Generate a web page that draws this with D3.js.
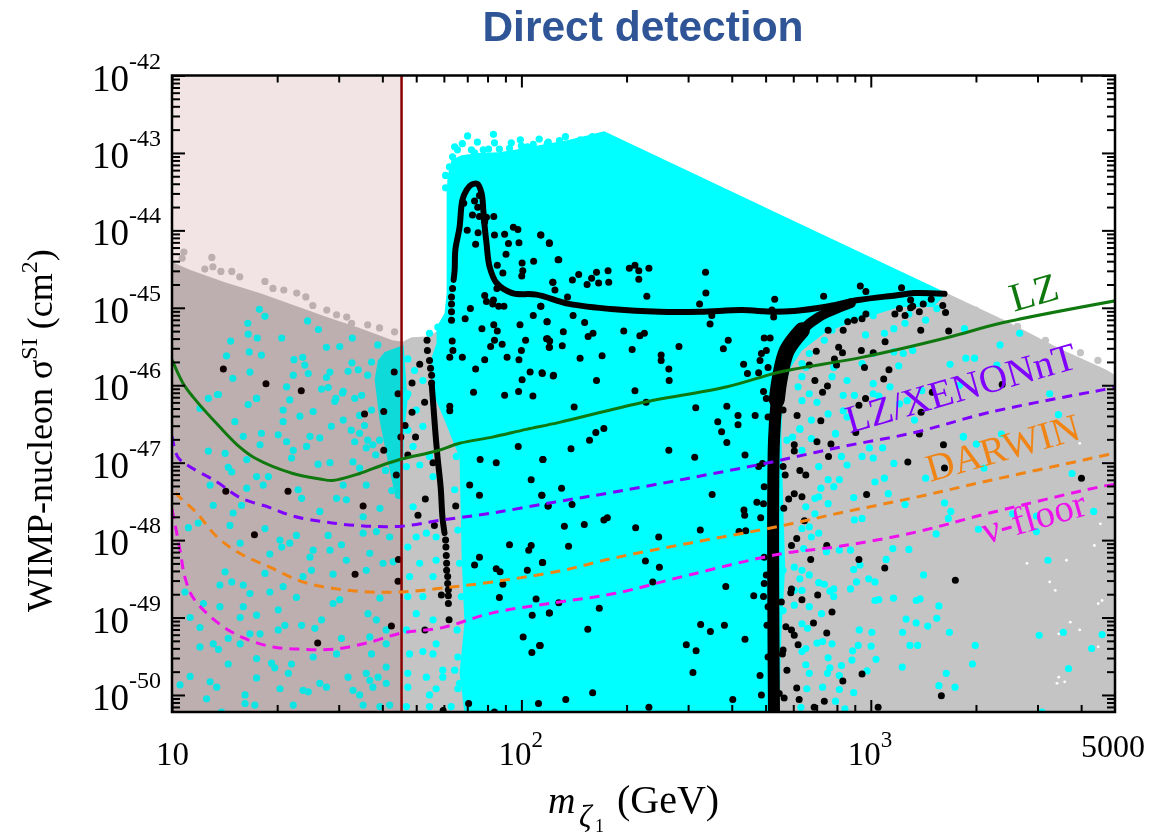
<!DOCTYPE html>
<html>
<head>
<meta charset="utf-8">
<script src="https://cdn.jsdelivr.net/npm/d3@7"></script>
<style>
  html, body { margin: 0; background: #fff; }
  text { font-family: "Liberation Serif", serif; }
  #chart { filter: blur(0.4px); }
</style>
</head>
<body>
<svg id="chart" width="1168" height="836"></svg>
<script>
// all points are [log10(mass / GeV), log10(sigma / cm2)]
const xTickExp = [1, 2, 3];
const yTickExp = [-42, -43, -44, -45, -46, -47, -48, -49, -50];
const xMinor = [20, 30, 40, 50, 60, 70, 80, 90, 200, 300, 400, 500, 600, 700, 800, 900, 2000, 3000, 4000];
const minorFactors = [2, 3, 4, 5, 6, 7, 8, 9];
const massLimit = 1.657;

const grayRegion = [[1,-44.41],[1.051,-44.51],[1.151,-44.67],[1.251,-44.81],[1.351,-44.97],[1.443,-45.12],[1.537,-45.26],[1.631,-45.42],[1.66,-45.44],[1.686,-45.38],[1.729,-45.37],[1.766,-45.29],[3.217,-44.81],[3.383,-45.16],[3.537,-45.52],[3.674,-45.8],[3.7,-45.87],[3.7,-50.23],[1,-50.23]];
const grayEdge = [[1.034,-44.28],[1.029,-44.36],[1.094,-44.5],[1.114,-44.35],[1.117,-44.47],[1.14,-44.53],[1.171,-44.53],[1.194,-44.6],[1.266,-44.66],[1.289,-44.75],[1.32,-44.77],[1.357,-44.81],[1.383,-44.86],[1.403,-44.97],[1.443,-45.03],[1.471,-45.09],[1.5,-45.12],[1.514,-45.2],[1.56,-45.22],[1.594,-45.26],[1.637,-45.31],[3.3,-45.03],[3.42,-45.24],[3.5,-45.42],[3.6,-45.58],[3.65,-45.68]];
const whiteSpecks = [[3.571,-49.06],[3.538,-49.21],[3.533,-49.85],[3.512,-48.54],[3.447,-48.3],[3.651,-49.38],[3.657,-47.79],[3.598,-46.75],[3.64,-48.07],[3.662,-48.78],[3.598,-49.16],[3.56,-48.26],[3.528,-48.65],[3.651,-48.82],[3.555,-49.83],[3.538,-49.77]];

const cyanRegion = [[1.837,-50.23],[1.823,-49.72],[1.837,-49.07],[1.829,-48.22],[1.823,-46.93],[1.803,-46.71],[1.78,-46.45],[1.743,-46.06],[1.74,-45.68],[1.757,-45.46],[1.757,-45.25],[1.78,-45.07],[1.786,-44.81],[1.786,-43.52],[1.789,-43.29],[1.8,-43.09],[1.829,-43.03],[1.88,-43],[1.937,-42.99],[1.994,-42.95],[2.051,-42.9],[2.137,-42.83],[2.194,-42.77],[2.237,-42.72],[3.217,-44.81],[3.179,-44.99],[3.082,-44.99],[3.018,-45.08],[2.932,-45.21],[2.867,-45.33],[2.803,-45.55],[2.771,-45.77],[2.749,-46.11],[2.744,-46.63],[2.749,-47.48],[2.755,-48.35],[2.744,-49.21],[2.738,-50.23]];
const cyanClump = [[1.609,-45.57],[1.663,-45.48],[1.674,-46.19],[1.663,-46.71],[1.66,-47.48],[1.64,-47.46],[1.617,-46.97],[1.594,-46.45],[1.58,-45.93],[1.589,-45.68]];
const cyanClumpDots = [[1.543,-46.13],[1.56,-45.87],[1.571,-46.32],[1.589,-45.48],[1.551,-46.52],[1.523,-46.17],[1.537,-46.39],[1.56,-46.71],[1.594,-46.71],[1.611,-47.1],[1.583,-46.9],[1.629,-47.36]];
const cyanEdge = [[1.846,-42.78],[1.92,-42.76],[1.874,-42.86],[1.831,-42.88],[1.809,-42.92],[1.923,-42.87],[1.971,-42.87],[1.997,-42.83],[2.051,-42.82],[2.077,-42.86],[1.906,-42.95],[1.866,-43],[2.017,-42.92],[1.846,-43.07],[1.803,-43.05],[1.794,-43.18],[1.929,-43.05],[1.951,-43.07],[2.126,-42.79],[2.169,-42.83],[2.203,-42.79],[1.817,-42.96],[1.857,-42.96],[1.891,-42.96],[1.937,-42.95],[1.966,-42.94],[2,-42.91],[2.034,-42.89],[2.074,-42.88],[2.109,-42.84],[1.783,-43.29],[1.783,-43.45],[1.818,-46.49],[1.814,-46.92],[1.809,-47.35],[1.818,-47.87],[1.823,-48.3],[1.828,-48.73],[1.816,-49.16],[1.818,-49.51],[1.823,-49.85]];

const cyanLeft = [[1.25,-45.02],[1.266,-45.11],[1.217,-45.2],[1.218,-45.34],[1.244,-45.39],[1.168,-45.43],[1.314,-45.39],[1.221,-45.57],[1.256,-45.61],[1.156,-45.62],[1.388,-45.17],[1.419,-45.28],[1.442,-45.51],[1.48,-45.5],[1.516,-45.39],[1.349,-45.67],[1.374,-45.64],[1.38,-45.74],[1.223,-45.83],[1.174,-45.91],[1.347,-45.87],[1.39,-45.85],[1.452,-45.83],[1.504,-45.82],[1.533,-45.8],[1.515,-45.71],[1.571,-45.7],[1.442,-45.9],[1.328,-46.02],[1.428,-46.05],[1.447,-46.03],[1.488,-46.1],[1.13,-46.12],[1.242,-46.17],[1.104,-46.17],[1.469,-46.17],
[1.08,-46.3],[1.133,-46.12],[1.218,-46.25],[1.242,-46.17],[1.318,-46.32],[1.337,-46.19],[1.366,-46.4],[1.404,-46.34],[1.466,-46.21],[1.49,-46.08],[1.18,-46.47],[1.318,-46.47],[1.456,-46.53],[1.49,-46.45],[1.513,-46.58],[1.537,-46.62],[1.204,-46.66],[1.256,-46.62],[1.304,-46.64],[1.328,-46.73],[1.395,-46.66],[1.423,-46.68],[1.252,-46.77],[1.104,-46.85],[1.152,-46.88],[1.385,-46.79],[1.347,-46.84],[1.523,-46.73],[1.556,-46.81],[1.575,-46.77],[1.214,-46.96],[1.161,-47.06],[1.171,-47.12],[1.342,-46.94],[1.418,-47.02],[1.452,-47],[1.518,-46.99],[1.537,-47.07],[1.276,-47.18],[1.242,-47.18],[1.109,-47.29],[1.214,-47.33],[1.261,-47.29],[1.361,-47.35],[1.49,-47.29],[1.556,-47.29],[1.118,-47.55],[1.175,-47.65],[1.199,-47.55],[1.371,-47.46],[1.471,-47.46],[1.499,-47.48],[1.423,-47.63],[1.547,-47.7],[1.595,-47.59],[1.075,-47.78],[1.047,-47.84],[1.166,-47.81],[1.266,-47.85],[1.356,-47.94],[1.447,-47.94],[1.547,-47.91],[1.585,-47.89],[1.623,-47.96],[1.309,-48],[1.195,-48.04],[1.337,-48.04],[1.404,-48.13],[1.485,-48.06],[1.566,-48.17],[1.28,-48.18],[1.452,-48.13],[1.395,-48.22],[1.314,-48.09],[1.499,-48.26],[1.604,-48.3],[1.633,-48.28],[1.556,-48.39],[1.399,-48.39],[1.375,-48.47],[1.461,-48.44],[1.266,-48.43],[1.152,-48.41],[1.137,-48.58],[1.171,-48.54],[1.204,-48.58],[1.318,-48.6],[1.28,-48.67],[1.356,-48.74],[1.223,-48.69],[1.204,-48.86],[1.137,-48.86],[1.304,-48.9],[1.037,-48.67],[1.09,-48.82],[1.461,-48.82],[1.48,-48.77],[1.595,-48.75],[1.561,-48.95],[1.585,-49.03],[1.052,-49],[1.195,-49],[1.242,-48.97],[1.08,-49.13],[1.323,-49.1],[1.304,-49.16],[1.371,-49.1],[1.428,-49.03],[1.409,-49.14],[1.252,-49.21],[1.485,-49.27],[1.161,-49.27],[1.223,-49.21],[1.566,-49.25],[1.613,-49.16],[1.118,-49.34],[1.08,-49.38],[1.195,-49.34],[1.133,-49.41],[1.404,-49.51],[1.471,-49.47],[1.571,-49.47],[1.613,-49.34],[1.242,-49.53],[1.161,-49.6],[1.285,-49.59],[1.294,-49.65],[1.342,-49.6],[1.504,-49.77],[1.333,-49.72],[1.556,-49.72],[1.613,-49.64],[1.566,-49.81],[1.59,-49.77],[1.052,-49.76],[1.242,-49.78],[1.109,-49.83],[1.128,-49.9],[1.023,-49.87],[1.423,-49.85],[1.442,-49.9],[1.309,-49.92],[1.375,-49.94],[1.39,-49.96],[1.518,-49.94],[1.537,-50],[1.575,-49.9],[1.613,-49.85],[1.209,-50],[1.209,-50.11],[1.237,-50.13],[1.099,-50.05],[1.347,-50.13],[1.547,-50.13],[1.595,-50.15],[1.623,-50.13],[1.142,-50.22]];
const cyanMiddle = [[1.671,-46.15],[1.699,-46.32],[1.675,-46.58],[1.718,-46.53],[1.671,-47.05],[1.69,-46.79],[1.709,-47.03],[1.737,-46.92],[1.747,-47.18],[1.69,-47.57],[1.728,-47.91],[1.699,-47.96],[1.756,-47.96],[1.675,-48.09],[1.709,-48.3],[1.756,-48.26],[1.68,-48.47],[1.747,-48.47],[1.675,-48.73],[1.718,-48.73],[1.699,-48.95],[1.747,-49.03],[1.671,-49.16],[1.756,-49.34],[1.68,-49.47],[1.718,-49.44],[1.747,-49.47],[1.675,-49.72],[1.728,-49.77],[1.775,-49.77],[1.809,-49.68],[1.675,-49.9],[1.756,-49.92],[1.818,-49.92],[1.737,-50],[1.799,-50.15],[1.671,-50.15],[1.737,-50.15],[1.775,-49.68],[1.675,-45.66],[1.694,-45.81],[1.718,-45.94],[1.737,-45.33],[1.761,-45.25],[1.675,-46.11]];
const cyanRight = [[2.889,-45.29],[2.921,-45.16],[3.007,-45.1],[2.985,-45.35],[3.039,-45.33],[3.066,-45.27],[3.098,-45.2],[3.157,-45.16],[3.109,-45.08],[3.189,-45.01],[3.268,-45.27],[3.426,-45.33],[3.37,-45.48],[3.272,-45.65],[3.297,-45.65],[3.227,-45.73],[3.361,-45.74],[3.007,-45.59],[3.066,-45.57],[3.093,-45.59],[3.12,-45.55],[3.08,-45.75],[2.894,-45.77],[2.975,-45.72],[2.814,-45.77],[2.867,-45.42],[2.824,-45.59],[2.803,-45.72],[2.889,-45.89],[2.932,-45.94],[2.803,-45.89],[2.792,-46.02],[2.824,-46.11],[3.007,-45.98],[3.055,-46.02],[2.921,-46.13],[2.953,-46.13],[3.007,-46.11],[3.023,-46.14],[2.846,-46.22],[2.803,-46.2],[2.878,-46.37],[2.921,-46.33],[2.932,-46.41],[3.082,-46.24],[3.254,-46],[3.512,-46.11],[3.537,-46.38],[3.374,-46.63],[3.265,-46.67],[2.899,-46.63],[2.83,-46.45],[2.797,-46.56],[2.776,-46.67],[3.104,-46.2],[3.146,-46.07],[3.125,-46.45],
[2.899,-46.62],[2.797,-46.57],[2.76,-46.71],[2.83,-46.69],[2.803,-46.84],[2.851,-47.05],[2.878,-47.22],[2.91,-47.22],[2.894,-47.31],[2.857,-47.33],[2.851,-47.44],[2.84,-47.46],[2.814,-47.57],[2.878,-47.53],[2.84,-47.66],[2.803,-47.85],[2.824,-47.83],[2.851,-47.91],[2.83,-47.96],[2.916,-46.92],[2.932,-47.03],[2.975,-46.92],[2.996,-46.81],[3.007,-46.94],[3.034,-46.81],[3.066,-47.01],[3.265,-46.66],[3.302,-46.76],[3.324,-47.07],[3.157,-47.2],[3.012,-47.25],[3.039,-47.2],[3.05,-47.4],[2.951,-47.45],[3.098,-47.54],[3.211,-47.52],[3.229,-47.63],[3.222,-47.72],[2.953,-47.74],[2.975,-47.72],[3.308,-47.86],[3.187,-47.92],[3.474,-47.89],[3.474,-47.69],[3.406,-47.66],[3.576,-47.14],[3.638,-47.63],[3.507,-48.26],[3.063,-48.11],[3.109,-48.12],[3.044,-48.25],[2.873,-48.15],[2.91,-48.13],[2.942,-48.13],[2.808,-48.11],[2.781,-48.35],[2.803,-48.39],[2.749,-48.39],[2.824,-48.45],[2.797,-48.5],[2.951,-48.38],[2.969,-48.32],[2.994,-48.5],[3.012,-48.54],[3.151,-48.45],[2.851,-48.55],[2.867,-48.57],[2.959,-48.54],[2.942,-48.63],[2.894,-48.63],[2.883,-48.66],[2.803,-48.65],[2.781,-48.65],[2.894,-48.73],[2.749,-48.91],[2.781,-48.84],[2.824,-48.86],[3.023,-48.77],[3.012,-48.78],[3.065,-48.75],[3.13,-48.78],[3.141,-48.76],[3.195,-48.85],[2.859,-48.95],[3.101,-49.02],[3.13,-49.07],[3.189,-49.01],[3.163,-49.11],[2.803,-49.08],[2.819,-49.14],[2.967,-49.16],[3.003,-49.19],[3.091,-49.19],[3.225,-49.19],[3.482,-49.23],[3.551,-49.19],[3.662,-49.22],[2.846,-49.33],[2.862,-49.31],[2.889,-49.34],[2.964,-49.36],[3.001,-49.37],[3.112,-49.36],[3.134,-49.36],[3.299,-49.36],[3.632,-49.4],[2.814,-49.4],[2.803,-49.44],[2.948,-49.43],[2.878,-49.52],[3.015,-49.54],[2.946,-49.55],[2.814,-49.61],[2.916,-49.62],[2.883,-49.65],[2.876,-49.72],[2.824,-49.72],[2.91,-49.75],[3.09,-49.64],[2.989,-49.69],[3.291,-49.6],[3.566,-49.66],[3.216,-49.72],[3.195,-49.88],[3.241,-49.9],[2.862,-49.9],[2.817,-49.92],[2.91,-49.93],[2.951,-49.97],[2.899,-50.08],[2.8,-50.16],[2.926,-50.18],[3.49,-50.22]];

const blackScatter = [[1.147,-45.79],[1.269,-45.98],[1.37,-46.07],[1.636,-45.83],[1.709,-45.73],[1.687,-45.97],[1.647,-46.11],[1.73,-45.42],[1.802,-45.43],[1.804,-45.55],[1.795,-45.64],[1.831,-45.64],[1.869,-45.79],[1.895,-45.67],[1.959,-45.64],[1.993,-45.67],[2,-45.55],[2.025,-45.83],[2.059,-45.84],[2.092,-45.87],[2.002,-45.93],[1.863,-46.09],[1.952,-46.13],[1.992,-46.08],[2.033,-46.14],[1.912,-45.5],[1.923,-45.42],[1.945,-45.47],[2.012,-45.42],[2.075,-45.4],[2.08,-45.51],[1.887,-45.27],[1.921,-45.22],[1.931,-45.3],[1.996,-45.22],[2.073,-45.18],[1.839,-45.14],[1.854,-45.01],[2.034,-45.1],[2.055,-44.98],[1.918,-44.95],[1.895,-44.84],[2.09,-44.67],[2.001,-44.59],[1.947,-44.55],[2.004,-44.52],[2.002,-44.42],[2.035,-44.4],[1.931,-44.45],[1.956,-44.31],[2.105,-44.38],[1.869,-44.18],[1.963,-44.17],[1.993,-44.16],[2.08,-44.16],[2.055,-44.06],[1.952,-44.05],[1.923,-44.06],[1.977,-43.96],[1.99,-43.99],[1.876,-44.03],[1.921,-43.82],[1.895,-43.89],
[1.551,-46.37],[1.606,-46.34],[1.687,-46.35],[1.723,-46.22],[1.667,-46.52],[1.655,-46.67],[1.697,-46.67],[1.606,-46.84],[1.675,-46.9],[1.747,-47],[1.642,-47.16],[1.154,-47.37],[1.332,-47.37],[1.852,-47.29],[1.88,-47.42],[1.547,-47.56],[1.725,-47.47],[1.812,-47.56],[1.704,-47.68],[1.751,-47.81],[1.236,-47.93],[1.991,-46.79],[1.882,-46.96],[1.928,-47],[2.061,-46.96],[2.028,-47.22],[2.058,-47.42],[2.077,-47.56],[1.795,-46.27],[1.795,-46.33],[1.966,-48.06],[2.028,-48.07],[2.021,-48.13],[1.88,-48.22],[1.866,-48.32],[2.061,-48.29],[1.928,-48.37],[1.939,-48.41],[2.017,-48.39],[1.648,-48.25],[1.524,-48.44],[1.647,-48.53],[1.947,-48.57],[1.771,-48.71],[1.937,-48.74],[2.042,-48.76],[2.031,-48.97],[2.08,-48.94],[1.793,-49.03],[1.628,-49.11],[1.724,-49.16],[1.417,-49.33],[2.005,-49.25],[2.052,-49.36],[2.03,-49.45],[1.849,-50.11],[2.049,-50.11],[1.923,-50.22],[1.776,-50.2],
[2.056,-44.06],[2.08,-44.17],[2.107,-44.38],[2.09,-44.67],[2.096,-44.77],[2.132,-44.86],[2.146,-44.64],[2.164,-44.57],[2.188,-44.7],[2.215,-44.54],[2.201,-44.62],[2.221,-44.68],[2.248,-44.52],[2.25,-44.67],[2.309,-44.49],[2.325,-44.45],[2.336,-44.52],[2.365,-44.49],[2.336,-44.63],[2.359,-44.85],[2.527,-44.54],[2.528,-44.81],[2.51,-44.95],[2.725,-44.89],[2.865,-44.85],[2.97,-44.72],[2.986,-44.79],[3.088,-44.74],[2.056,-44.98],[2.148,-45.1],[2.074,-45.18],[2.181,-45.19],[2.12,-45.31],[2.293,-45.3],[2.205,-45.33],[2.191,-45.37],[2.072,-45.4],[2.081,-45.43],[2.08,-45.51],[2.117,-45.49],[2.352,-45.33],[2.339,-45.36],[2.451,-45.5],[2.317,-45.54],[2.231,-45.62],[2.168,-45.65],[2.4,-45.61],[2.4,-45.68],[2.422,-45.79],[2.423,-45.94],[2.06,-45.85],[2.091,-45.88],[2.215,-45.94],[2.325,-46.07],[2.357,-46.22],[2.151,-46.28],[2.499,-46.29],[2.588,-46.27],[2.62,-46.39],[2.669,-46.39],[2.62,-46.51],[2.562,-46.47],[2.573,-46.6],[2.236,-46.56],[2.213,-46.61],[2.54,-45.21],[2.545,-45.1],[2.592,-45.42],[2.578,-45.53],[2.695,-45.39],[2.712,-45.39],[2.701,-45.55],[2.687,-45.59],[2.683,-45.68],[2.636,-45.73],[2.647,-45.85],[2.679,-45.84],[2.706,-45.77],[2.722,-45.12],[2.717,-45.03],[2.693,-46.08],[2.701,-46.17],
[2.878,-45.29],[2.921,-45.29],[2.934,-45.18],[2.975,-45.14],[2.953,-45.16],[2.986,-45.08],[2.844,-45.56],[2.908,-45.51],[2.919,-45.58],[2.973,-45.55],[3.007,-45.58],[3.041,-45.44],[2.896,-45.66],[2.902,-45.74],[2.982,-45.77],[3.052,-45.8],[3.037,-45.92],[2.84,-45.94],[2.876,-46.01],[2.862,-46.09],[2.985,-46.17],[2.966,-46.26],[3.176,-46.09],[3.144,-46.35],[3.139,-46.63],[3.376,-45.99],[2.789,-46.39],[2.857,-46.46],[2.957,-46.61],[3.069,-45.08],[3.082,-45.01],[3.114,-45],[3.139,-45.05],[3.143,-45.29],[3.223,-45.3],[3.214,-45.06],[3.206,-44.97],[3.173,-44.89],[3.098,-45.1],[2.824,-45.74],
[2.846,-46.73],[2.781,-46.77],[2.781,-46.85],[2.886,-46.76],[2.879,-46.92],[3.208,-46.77],[2.588,-46.74],[2.422,-46.84],[2.496,-46.93],[2.64,-46.9],[2.142,-46.82],[2.062,-46.96],[2.195,-46.71],[2.679,-47.05],[2.797,-47.1],[2.814,-47.16],[3.106,-46.99],[3.211,-47.07],[3.603,-47.2],[2.115,-47.33],[2.059,-47.42],[2.076,-47.56],[2.145,-47.54],[2.546,-47.41],[2.781,-47.4],[2.803,-47.44],[2.765,-47.47],[2.988,-47.41],[2.674,-47.51],[2.751,-47.59],[2.637,-47.61],[2.639,-47.68],[2.685,-47.71],[2.81,-47.75],[2.246,-47.71],[2.236,-47.74],[2.18,-47.8],[2.123,-47.82],[2.327,-47.84],[2.512,-47.87],[2.393,-47.96],[2.623,-47.89],[2.642,-47.88],[2.788,-47.98],[2.773,-48.07],[2.874,-48.07],[2.135,-48.08],[2.06,-48.29],[2.355,-48.27],[2.395,-48.35],[2.828,-48.25],[2.966,-48.25],[3.04,-48.36],[3.242,-48.52],[2.376,-48.54],[2.585,-48.6],[2.773,-48.63],[2.771,-48.68],[2.665,-48.72],[2.848,-48.71],[2.803,-48.77],[2.107,-48.81],[2.08,-48.94],[2.223,-48.88],[2.889,-48.93],[2.513,-49.09],[2.581,-49.1],[2.541,-49.18],[2.19,-49.15],[2.836,-49.07],[2.757,-49.12],[2.773,-49.16],[2.781,-49.23],[2.874,-49.2],[2.64,-49.28],[2.792,-49.35],[2.472,-49.35],[2.5,-49.43],[2.747,-49.47],[2.054,-49.36],[2.491,-49.71],[2.683,-49.75],[2.76,-49.68],[2.975,-49.73],[2.92,-49.82],[2.788,-49.91],[2.204,-49.97],[2.127,-50.06],[2.605,-50.06],[2.687,-50],[2.752,-50.04],[2.795,-50.06],[2.867,-50.08],[2.838,-50.16],[3.021,-50.16],[3.202,-50.01],[2.365,-50.16]];

// dots hugging the dense black bands
const blackBandDots = [[2.695,-47.31],[2.693,-47.53],[2.695,-48.22],[2.701,-48.45],[2.695,-48.56],[2.706,-48.86],[2.703,-49.1],[2.706,-49.51],[2.744,-48.8],[2.749,-47.05],[2.749,-49.42],[2.738,-49.98],[2.693,-48.73],[2.749,-46.32],[2.706,-46.41],[2.755,-47.16],[2.69,-47.01],[3.114,-44.9],[3.15,-44.95],[3.12,-44.98],
[1.731,-45.55],[1.737,-45.68],[1.74,-45.78],[1.743,-45.87],[1.743,-45.97],[1.783,-48],[1.784,-48.09],[1.785,-48.2],[1.786,-48.3],[1.786,-48.39],[1.789,-48.47],[1.789,-48.56],[1.791,-48.64],[1.791,-48.72],[1.791,-48.82],
[1.8,-45.16],[1.8,-45.05],[1.8,-44.95],[1.8,-44.86],[1.803,-44.75],[1.866,-43.62],[1.88,-43.55],[1.875,-43.7],[1.86,-43.8],[1.88,-43.82],[1.9,-43.83],[1.835,-43.65],[1.845,-44],
[1.9,-44.92],[1.92,-44.9],[1.935,-44.98],[1.95,-44.98],[1.93,-44.75]];

const fallBand = [[1.743,-45.97],[1.749,-46.32],[1.754,-46.62],[1.76,-46.93],[1.769,-47.32],[1.774,-47.7],[1.78,-47.91]];
const peakBand = [[1.806,-44.64],[1.809,-44.51],[1.811,-44.25],[1.823,-43.96],[1.831,-43.61],[1.843,-43.48],[1.857,-43.41],[1.874,-43.4],[1.886,-43.52],[1.891,-43.74],[1.894,-43.91],[1.9,-44.16],[1.909,-44.47],[1.929,-44.68],[1.974,-44.81],[2.043,-44.83],[2.137,-44.95],[2.266,-45.02],[2.395,-45.05],[2.513,-45.05],[2.631,-45.03],[2.717,-45.05],[2.781,-45.04],[2.867,-44.99],[2.964,-44.9],[3.071,-44.84],[3.125,-44.81],[3.211,-44.82]];
const stemBand = [[2.723,-50.23],[2.723,-46.71],[2.731,-46.19],[2.74,-45.9]];
const arcLowBand = [[2.731,-46.19],[2.74,-45.9],[2.76,-45.55],[2.803,-45.29]];
const arcHighBand = [[2.76,-45.55],[2.803,-45.29],[2.851,-45.12],[2.943,-44.94]];

const lzLimit = [[1,-45.67],[1.031,-45.97],[1.06,-46.15],[1.137,-46.54],[1.194,-46.8],[1.237,-46.94],[1.346,-47.14],[1.423,-47.21],[1.46,-47.23],[1.537,-47.14],[1.603,-47.03],[1.66,-46.95],[1.757,-46.85],[1.823,-46.75],[1.917,-46.67],[2.014,-46.57],[2.109,-46.48],[2.34,-46.23],[2.589,-46.02],[2.74,-45.83],[2.974,-45.64],[3.223,-45.38],[3.371,-45.2],[3.7,-44.91]];
const xenonLimit = [[1,-46.66],[1.017,-46.93],[1.043,-47.03],[1.129,-47.25],[1.194,-47.45],[1.28,-47.58],[1.346,-47.69],[1.443,-47.77],[1.557,-47.82],[1.657,-47.82],[1.774,-47.74],[1.917,-47.65],[2.094,-47.51],[2.266,-47.38],[2.48,-47.2],[2.697,-47.01],[2.911,-46.8],[3.126,-46.61],[3.34,-46.35],[3.663,-46.06],[3.7,-46.03]];
const darwinLimit = [[1.009,-47.39],[1.023,-47.45],[1.071,-47.65],[1.129,-47.96],[1.194,-48.17],[1.28,-48.35],[1.374,-48.54],[1.471,-48.63],[1.566,-48.67],[1.657,-48.67],[1.774,-48.62],[1.917,-48.54],[2.109,-48.4],[2.266,-48.23],[2.48,-48.04],[2.74,-47.82],[2.911,-47.65],[3.126,-47.45],[3.34,-47.23],[3.674,-46.9],[3.7,-46.87]];
const neutrinoFloor = [[1,-47.6],[1.023,-48.13],[1.037,-48.48],[1.06,-48.74],[1.129,-49.06],[1.203,-49.26],[1.289,-49.38],[1.374,-49.41],[1.46,-49.41],[1.557,-49.33],[1.657,-49.2],[1.774,-49.13],[1.917,-48.94],[2.109,-48.8],[2.266,-48.69],[2.48,-48.45],[2.74,-48.18],[2.911,-48.08],[3.126,-47.9],[3.34,-47.65],[3.669,-47.3],[3.7,-47.28]];

const width = 1168;
const height = 836;

const x = d3.scaleLog().domain([10, 5000]).range([172, 1115]);
const y = d3.scaleLog().domain([Math.pow(10, -50.22), 1e-42]).range([712, 75.5]);
const px = d => x(Math.pow(10, d[0]));
const py = d => y(Math.pow(10, d[1]));

const svg = d3.select("#chart");

svg.append("clipPath").attr("id", "plot-clip")
    .append("rect")
    .attr("x", x.range()[0])
    .attr("y", y.range()[1])
    .attr("width", x.range()[1] - x.range()[0])
    .attr("height", y.range()[0] - y.range()[1]);

const plot = svg.append("g").attr("clip-path", "url(#plot-clip)");
const line = d3.line().x(px).y(py);
const smooth = d3.line().x(px).y(py).curve(d3.curveCatmullRom);

function drawRegion(points, color) {
    plot.append("path").attr("d", line(points) + "Z").attr("fill", color);
}

function drawDots(points, color, r) {
    plot.append("g").selectAll("circle")
        .data(points)
        .enter()
        .append("circle")
        .attr("cx", px)
        .attr("cy", py)
        .attr("r", r)
        .attr("fill", color);
}

function drawBand(points, thick) {
    plot.append("path")
        .attr("d", smooth(points))
        .attr("fill", "none")
        .attr("stroke", "black")
        .attr("stroke-width", thick)
        .attr("stroke-linejoin", "round")
        .attr("stroke-linecap", "round");
}

// scan regions
drawRegion(grayRegion, "#c4c4c4");
drawDots(grayEdge, "#c4c4c4", 3.6);
drawDots(whiteSpecks, "white", 1.4);
drawRegion(cyanRegion, "#00ffff");
drawRegion(cyanClump, "#00f4f4");
drawDots(cyanClumpDots, "#00ffff", 3.6);
drawDots(cyanEdge, "#00ffff", 3.6);
drawDots(cyanLeft, "#00ffff", 3.6);
drawDots(cyanMiddle, "#00ffff", 3.6);
drawDots(cyanRight, "#00ffff", 3.6);

// black points
drawDots(blackScatter, "black", 3.5);
drawDots(blackBandDots, "black", 3.5);
drawBand(fallBand, 6);
drawBand(peakBand, 6);
drawBand(stemBand, 12);
drawBand(arcLowBand, 16);
drawBand(arcHighBand, 10);

// excluded mass range
plot.append("rect")
    .attr("x", x.range()[0])
    .attr("y", y.range()[1])
    .attr("width", x(Math.pow(10, massLimit)) - x.range()[0])
    .attr("height", y.range()[0] - y.range()[1])
    .attr("fill", "rgb(128,0,0)")
    .attr("fill-opacity", 0.105);
plot.append("line")
    .attr("x1", x(Math.pow(10, massLimit)))
    .attr("x2", x(Math.pow(10, massLimit)))
    .attr("y1", y.range()[0])
    .attr("y2", y.range()[1])
    .attr("stroke", "#8b0000")
    .attr("stroke-width", 2.5);

// limit curves
const limits = [
    { points: xenonLimit, color: "#7f00ff", dash: "10,7" },
    { points: darwinLimit, color: "#f08415", dash: "10,7" },
    { points: neutrinoFloor, color: "#ee11ee", dash: "10,7" },
    { points: lzLimit, color: "#0f780f", dash: null }
];
limits.forEach(l => {
    plot.append("path")
        .attr("d", smooth(l.points))
        .attr("fill", "none")
        .attr("stroke", l.color)
        .attr("stroke-width", 3)
        .attr("stroke-dasharray", l.dash);
});

// curve labels
const curveLabels = [
    { text: "LZ", color: "#0f780f", mass: 3.41, exp: -45.05, size: 40 },
    { text: "LZ/XENONnT", color: "#7f00ff", mass: 2.94, exp: -46.62, size: 39 },
    { text: "DARWIN", color: "#f08415", mass: 3.17, exp: -47.25, size: 39 },
    { text: "ν-floor", color: "#ee11ee", mass: 3.33, exp: -48.05, size: 39 }
];
svg.selectAll(".curve-label")
    .data(curveLabels)
    .enter()
    .append("text")
    .attr("class", "curve-label")
    .attr("transform", d => `translate(${px([d.mass])},${py([0, d.exp])}) rotate(-16)`)
    .attr("font-size", d => d.size)
    .attr("fill", d => d.color)
    .text(d => d.text);

// axes, ticks pointing inward on all four sides
const yMinor = [];
yTickExp.slice(1).forEach(e => minorFactors.forEach(f => yMinor.push(f * Math.pow(10, e))));
yMinor.push(9e-51, 8e-51, 7e-51);
const xMajor = xTickExp.map(e => Math.pow(10, e));
const yMajor = yTickExp.map(e => Math.pow(10, e));

function ticks(axis, scale, values, size, pos) {
    svg.append("g")
        .attr("transform", pos)
        .call(axis(scale).tickValues(values).tickSize(size).tickFormat(""))
        .call(g => g.select(".domain").remove())
        .call(g => g.selectAll("line").attr("stroke", "black").attr("stroke-width", 2));
}
ticks(d3.axisBottom, x, xMinor, -7, "translate(0,712)");
ticks(d3.axisBottom, x, xMajor, -12, "translate(0,712)");
ticks(d3.axisTop, x, xMinor, -7, "translate(0,75.5)");
ticks(d3.axisTop, x, xMajor, -12, "translate(0,75.5)");
ticks(d3.axisLeft, y, yMinor, -8, "translate(172,0)");
ticks(d3.axisLeft, y, yMajor, -13, "translate(172,0)");
ticks(d3.axisRight, y, yMinor, -8, "translate(1115,0)");
ticks(d3.axisRight, y, yMajor, -13, "translate(1115,0)");

svg.append("rect")
    .attr("x", x.range()[0])
    .attr("y", y.range()[1])
    .attr("width", x.range()[1] - x.range()[0])
    .attr("height", y.range()[0] - y.range()[1])
    .attr("fill", "none")
    .attr("stroke", "black")
    .attr("stroke-width", 2.5);

// tick labels
yTickExp.forEach(e => {
    const t = svg.append("text")
        .attr("x", 92)
        .attr("y", y(Math.pow(10, e)) + 15)
        .attr("font-size", 37)
        .text("10");
    t.append("tspan").attr("font-size", 24).attr("dy", -22).text(e);
});
xTickExp.forEach(e => {
    const t = svg.append("text")
        .attr("x", x(Math.pow(10, e)) - (e === 1 ? 16 : 23))
        .attr("y", 765)
        .attr("font-size", 33)
        .text("10");
    if (e > 1) t.append("tspan").attr("font-size", 23).attr("dy", -18).text(e);
});
svg.append("text")
    .attr("x", 1145)
    .attr("y", 757)
    .attr("text-anchor", "end")
    .attr("font-size", 32)
    .text("5000");

// axis titles
svg.append("text").attr("x", 548).attr("y", 813).attr("font-size", 38).attr("font-style", "italic").text("m");
svg.append("text").attr("x", 579).attr("y", 827).attr("font-size", 31).attr("font-style", "italic").text("ζ");
svg.append("text").attr("x", 595).attr("y", 832).attr("font-size", 18).text("1");
svg.append("text").attr("x", 617).attr("y", 813).attr("font-size", 40).text("(GeV)");

const yTitle = svg.append("text")
    .attr("transform", "translate(52,612) rotate(-90)")
    .attr("font-size", 36)
    .text("WIMP-nucleon σ");
yTitle.append("tspan").attr("font-size", 24).attr("dy", -15).text("SI");
yTitle.append("tspan").attr("dy", 15).text(" (cm");
yTitle.append("tspan").attr("font-size", 24).attr("dy", -15).text("2");
yTitle.append("tspan").attr("dy", 15).text(")");

svg.append("text")
    .attr("x", 643)
    .attr("y", 41)
    .attr("text-anchor", "middle")
    .style("font-family", "'Liberation Sans', sans-serif")
    .attr("font-weight", "bold")
    .attr("font-size", 42.5)
    .attr("fill", "#2f5597")
    .text("Direct detection");
</script>
</body>
</html>
